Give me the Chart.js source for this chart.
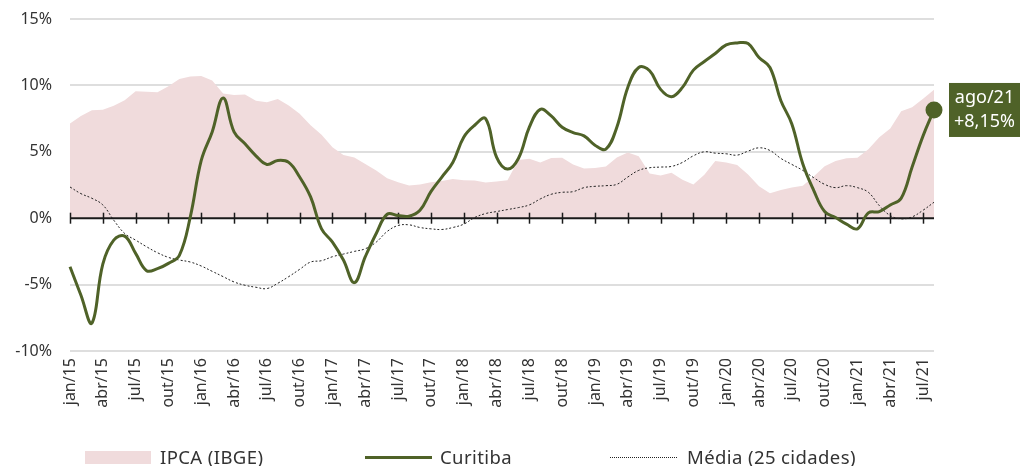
<!DOCTYPE html>
<html>
<head>
<meta charset="utf-8">
<script src="https://cdn.jsdelivr.net/npm/chart.js@4"></script>
<style>
    body { margin: 0; background: #fff; }
    #wrap { position: relative; width: 1020px; height: 466px; }
    #legend { position: absolute; left: 0; top: 446px; width: 1020px; height: 22px; font-family: "Noto Sans", sans-serif; font-size: 18.5px; letter-spacing: 0.4px; color: #333; }
    .item { position: absolute; top: 0; line-height: 22px; white-space: nowrap; }
    .sw { position: absolute; }
</style>
</head>
<body>
<div id="wrap">
    <canvas id="chart" width="1020" height="466"></canvas>
    <div id="legend">
        <div class="sw" style="left:85px;top:5px;width:66px;height:13px;background:#f0dbdc;"></div>
        <div class="item" style="left:160px;">IPCA (IBGE)</div>
        <div class="sw" style="left:365px;top:10px;width:67px;height:3px;background:#4f6228;"></div>
        <div class="item" style="left:440px;">Curitiba</div>
        <div class="sw" style="left:610px;top:11px;width:67px;height:0;border-top:1px dotted #222;"></div>
        <div class="item" style="left:687px;">Média (25 cidades)</div>
    </div>
</div>
<script>
// Categories: jan/15 .. ago/21
const months = ['jan', 'fev', 'mar', 'abr', 'mai', 'jun', 'jul', 'ago', 'set', 'out', 'nov', 'dez'];
const years = ['15', '16', '17', '18', '19', '20', '21'];
const labels = [];
years.forEach(y => months.forEach(m => labels.push(m + '/' + y)));
labels.length = 80;

// IPCA (IBGE), 12 months, %
const ipca = [
    7.14, 7.70, 8.13, 8.17, 8.47, 8.89, 9.56, 9.53, 9.49, 9.93, 10.48, 10.67,
    10.71, 10.36, 9.39, 9.28, 9.32, 8.84, 8.74, 8.97, 8.48, 7.87, 6.99, 6.29,
    5.35, 4.76, 4.57, 4.08, 3.60, 3.00, 2.71, 2.46, 2.54, 2.70, 2.80, 2.95,
    2.86, 2.84, 2.68, 2.76, 2.86, 4.39, 4.48, 4.19, 4.53, 4.56, 4.05, 3.75,
    3.78, 3.89, 4.58, 4.94, 4.66, 3.37, 3.22, 3.43, 2.89, 2.54, 3.27, 4.31,
    4.19, 4.01, 3.30, 2.40, 1.88, 2.13, 2.31, 2.44, 3.14, 3.92, 4.31, 4.52,
    4.56, 5.20, 6.10, 6.76, 8.06, 8.35, 8.99, 9.68
];

// Curitiba, %
const curitiba = [
    -3.65, -5.8, -7.9, -3.45, -1.65, -1.35, -2.65, -3.95, -3.8, -3.4, -2.8, 0.1,
    4.35, 6.5, 9.05, 6.5, 5.6, 4.7, 4.05, 4.35, 4.2, 3.1, 1.6, -0.8,
    -1.8, -3.15, -4.85, -2.9, -1.15, 0.3, 0.2, 0.15, 0.6, 2.0, 3.1, 4.2,
    6.1, 7.0, 7.5, 4.6, 3.7, 4.5, 6.85, 8.2, 7.7, 6.85, 6.45, 6.2,
    5.5, 5.2, 6.85, 9.85, 11.35, 11.1, 9.7, 9.15, 9.85, 11.15, 11.8, 12.4,
    13.05, 13.2, 13.15, 12.1, 11.35, 8.85, 7.1, 4.1, 2.1, 0.5, 0.05, -0.45,
    -0.8, 0.4, 0.5, 1.0, 1.5, 3.85, 6.2, 8.15
];

// Média (25 cidades), %
const media = [
    2.35, 1.85, 1.5, 1.0, -0.15, -1.15, -1.65, -2.15, -2.6, -2.95, -3.15, -3.3,
    -3.6, -4.0, -4.4, -4.8, -5.05, -5.2, -5.3, -4.9, -4.4, -3.85, -3.3, -3.2,
    -2.9, -2.7, -2.5, -2.3, -1.8, -1.0, -0.55, -0.5, -0.7, -0.8, -0.85, -0.7,
    -0.45, 0.05, 0.35, 0.5, 0.65, 0.8, 1.0, 1.45, 1.8, 1.95, 2.0, 2.3,
    2.4, 2.45, 2.55, 3.1, 3.6, 3.8, 3.85, 3.9, 4.2, 4.7, 5.0, 4.9,
    4.85, 4.75, 5.05, 5.3, 5.1, 4.5, 4.05, 3.6, 3.05, 2.55, 2.3, 2.45,
    2.3, 1.95, 0.95, 0.2, -0.05, 0.1, 0.6, 1.2
];

const yTicks = [-10, -5, 0, 5, 10, 15];

const green = '#4f6228';
const fontFamily = '"Noto Sans", sans-serif';

// zero axis with tick marks, drawn right after the IPCA area
const zeroAxis = {
    id: 'zeroAxis',
    afterDatasetDraw(chart, args) {
        if (args.index !== 2) return;
        const ctx = chart.ctx;
        const x = chart.scales.x;
        const y0 = chart.scales.y.getPixelForValue(0);
        ctx.save();
        ctx.strokeStyle = '#1a1a1a';
        ctx.lineWidth = 2;
        ctx.beginPath();
        ctx.moveTo(chart.chartArea.left, y0);
        ctx.lineTo(chart.chartArea.right, y0);
        ctx.stroke();
        ctx.lineWidth = 1.5;
        labels.forEach((l, i) => {
            if (i % 3 !== 0) return;
            const px = Math.round(x.getPixelForValue(i)) + 0.5;
            ctx.beginPath();
            ctx.moveTo(px, y0 - 5.5);
            ctx.lineTo(px, y0 + 5.5);
            ctx.stroke();
        });
        ctx.restore();
    }
};

// last value callout
const callout = {
    id: 'callout',
    afterDraw(chart) {
        const meta = chart.getDatasetMeta(0);
        const last = meta.data[meta.data.length - 1];
        const ctx = chart.ctx;
        const bx = last.x + 15, bw = 71, bh = 54, by = last.y - bh / 2;
        ctx.save();
        ctx.fillStyle = green;
        ctx.fillRect(bx, by, bw, bh);
        ctx.fillStyle = '#fff';
        ctx.font = '18px ' + fontFamily;
        ctx.textAlign = 'center';
        ctx.textBaseline = 'middle';
        const v = curitiba[curitiba.length - 1];
        ctx.fillText(labels[labels.length - 1], bx + bw / 2, by + 15);
        ctx.fillText('+' + v.toFixed(2).replace('.', ',') + '%', bx + bw / 2, by + 39);
        ctx.restore();
    }
};

new Chart(document.getElementById('chart'), {
    type: 'line',
    data: {
        labels: labels,
        datasets: [
            {
                label: 'Curitiba',
                data: curitiba,
                borderColor: green,
                backgroundColor: green,
                borderWidth: 3,
                tension: 0.4,
                fill: false,
                pointRadius: curitiba.map((v, i) => i === curitiba.length - 1 ? 7 : 0)
            },
            {
                label: 'Média (25 cidades)',
                data: media,
                borderColor: '#222',
                borderWidth: 1,
                borderDash: [2, 2],
                tension: 0.4,
                fill: false,
                pointRadius: 0
            },
            {
                label: 'IPCA (IBGE)',
                data: ipca,
                borderWidth: 0,
                borderColor: 'rgba(0,0,0,0)',
                backgroundColor: '#f0dbdc',
                fill: 'origin',
                tension: 0,
                pointRadius: 0
            }
        ]
    },
    options: {
        responsive: false,
        animation: false,
        layout: { padding: { left: 0, right: 86, top: 19, bottom: 0 } },
        plugins: {
            legend: { display: false },
            tooltip: { enabled: false }
        },
        scales: {
            x: {
                grid: { display: false, drawTicks: false },
                border: { display: false },
                afterFit(scale) { scale.height = 115; },
                ticks: {
                    autoSkip: false,
                    maxRotation: 90,
                    minRotation: 90,
                    padding: 7,
                    color: '#333',
                    font: { family: fontFamily, size: 16 },
                    callback: (v, i) => i % 3 === 0 ? labels[i] : ''
                }
            },
            y: {
                min: -10,
                max: 15,
                afterFit(scale) {
                    scale.width = 70;
                    scale.paddingTop = 0;
                    scale.paddingBottom = 0;
                },
                afterBuildTicks(scale) { scale.ticks = yTicks.map(v => ({ value: v })); },
                grid: { color: '#dedede', lineWidth: 2, drawTicks: false },
                border: { display: false },
                ticks: {
                    padding: 18,
                    color: '#333',
                    font: { family: fontFamily, size: 16 },
                    callback: v => v + '%'
                }
            }
        }
    },
    plugins: [zeroAxis, callout]
});
</script>
</body>
</html>
